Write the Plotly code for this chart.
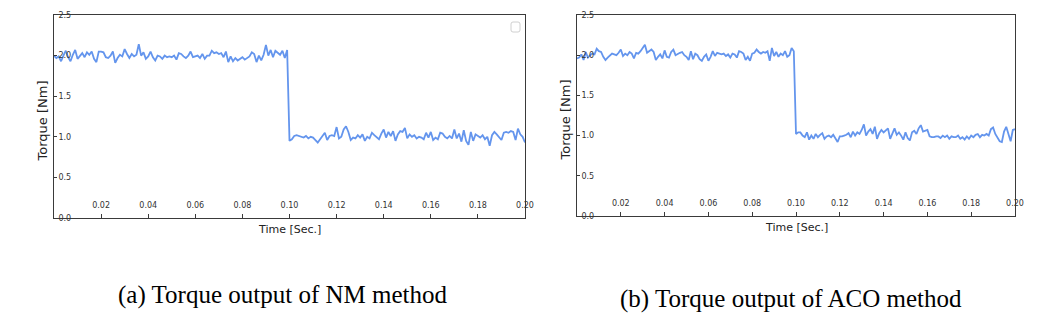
import numpy as np
import plotly.graph_objects as go

# sampled every 1 ms from 0 to 0.2 s
time_step = 0.001
time = np.round(np.arange(201) * time_step, 3)

torque_nm = [
    2.00, 1.97, 1.99, 1.93, 2.00, 2.06, 1.98, 1.93, 2.01, 2.07,
    1.96, 1.99, 2.03, 1.98, 2.04, 2.01, 2.05, 1.96, 1.92, 2.05,
    2.05, 2.04, 1.98, 1.97, 2.00, 2.05, 1.91, 1.97, 2.01, 1.99,
    2.08, 2.02, 1.97, 2.02, 1.99, 2.01, 2.14, 2.00, 2.04, 1.96,
    1.99, 2.05, 1.98, 1.94, 2.00, 1.99, 1.96, 2.00, 1.98, 1.99,
    1.98, 2.00, 1.95, 2.03, 2.02, 1.99, 1.97, 2.00, 2.05, 1.98,
    1.99, 2.00, 1.97, 2.02, 1.96, 2.00, 2.00, 2.06, 2.03, 2.04,
    2.02, 2.03, 1.98, 2.05, 1.92, 1.99, 1.93, 1.97, 1.94, 1.96,
    1.98, 1.95, 1.97, 1.99, 2.04, 2.02, 1.92, 2.00, 1.94, 2.01,
    2.13, 2.00, 2.07, 1.98, 2.06, 2.04, 2.01, 2.06, 1.97, 2.07,
    0.95, 0.97, 1.01, 1.02, 1.01, 1.00, 0.99, 1.01, 0.98, 1.00,
    0.99, 0.96, 0.93, 0.97, 1.01, 1.05, 0.96, 1.01, 1.02, 1.01,
    1.12, 0.98, 1.00, 1.09, 1.13, 1.06, 0.96, 0.99, 0.98, 1.02,
    0.99, 1.03, 0.95, 1.00, 0.98, 1.05, 1.02, 1.00, 0.97, 1.04,
    1.09, 0.99, 1.06, 1.01, 1.07, 0.95, 1.03, 1.07, 1.06, 1.11,
    0.98, 1.03, 1.00, 1.02, 0.98, 1.00, 0.99, 0.97, 1.05, 0.99,
    1.06, 0.96, 0.99, 0.97, 1.05, 1.04, 1.00, 0.98, 1.01, 0.98,
    1.09, 0.98, 1.04, 0.94, 1.08, 0.95, 0.90, 1.06, 0.95, 1.03,
    1.01, 0.99, 1.02, 0.97, 1.00, 0.89, 1.02, 1.06, 1.03, 1.00,
    0.96, 1.05, 1.06, 1.05, 1.07, 1.06, 0.96, 1.10, 1.03, 1.00,
    0.93,
]

torque_aco = [
    1.96, 1.97, 2.01, 1.94, 2.04, 1.97, 2.00, 2.02, 2.01, 2.08,
    2.05, 2.04, 1.98, 1.94, 1.97, 1.99, 2.02, 2.01, 2.00, 2.03,
    2.07, 1.99, 2.02, 2.00, 2.04, 2.02, 1.96, 2.03, 2.02, 2.05,
    2.09, 2.13, 2.03, 2.05, 2.07, 2.04, 1.94, 1.98, 2.01, 1.96,
    2.06, 1.98, 1.97, 2.04, 2.07, 2.00, 2.02, 2.03, 2.04, 2.00,
    1.98, 1.94, 2.05, 1.95, 2.02, 2.00, 1.95, 1.93, 1.98, 2.01,
    1.93, 1.98, 2.05, 1.99, 2.03, 2.02, 2.01, 2.02, 1.99, 2.01,
    1.97, 2.02, 2.01, 1.97, 2.05, 2.04, 2.02, 1.94, 1.98, 1.93,
    2.02, 2.03, 2.07, 2.04, 2.02, 2.04, 2.03, 2.05, 1.93, 2.09,
    1.99, 2.04, 1.98, 2.02, 2.00, 2.05, 1.98, 2.00, 2.09, 2.05,
    1.02, 1.04, 1.04, 1.00, 0.98, 1.04, 0.95, 1.00, 0.96, 1.02,
    0.98, 1.01, 1.03, 0.96, 0.99, 1.00, 0.98, 1.01, 0.97, 0.92,
    0.99, 0.99, 1.00, 1.01, 1.03, 0.98, 1.05, 1.00, 1.04, 1.02,
    1.07, 1.14, 1.00, 1.05, 1.08, 1.02, 1.11, 0.96, 1.03, 1.07,
    1.04, 1.07, 1.09, 0.96, 1.02, 1.09, 1.01, 1.04, 1.00, 0.95,
    1.04, 0.97, 0.94, 1.04, 1.06, 1.02, 1.09, 1.13, 1.05, 1.06,
    1.07, 0.99, 0.98, 0.98, 0.99, 0.99, 0.97, 1.00, 0.98, 1.00,
    0.96, 0.99, 0.98, 0.98, 1.00, 0.96, 0.98, 0.95, 0.99, 0.96,
    1.00, 0.98, 1.01, 1.02, 0.98, 1.01, 1.00, 1.02, 1.00, 1.08,
    1.10, 1.02, 0.97, 0.93, 0.92, 1.05, 1.11, 1.03, 0.93, 1.07,
    1.08,
]

x_ticks = [0.02, 0.04, 0.06, 0.08, 0.10, 0.12, 0.14, 0.16, 0.18, 0.20]
y_ticks = [0.0, 0.5, 1.0, 1.5, 2.0, 2.5]
captions = ["(a) Torque output of NM method", "(b) Torque output of ACO method"]

W, H = 1064, 330
LINE = "rgb(100,149,237)"
AX = "#3a3a3a"


def px_x(v):
    return v / W


def px_y(v):
    return 1 - v / H


fig = go.Figure()
fig.add_trace(go.Scatter(x=time, y=torque_nm, mode="lines", line=dict(color=LINE, width=1.8),
                         xaxis="x", yaxis="y", showlegend=False))
fig.add_trace(go.Scatter(x=time, y=torque_aco, mode="lines", line=dict(color=LINE, width=1.8),
                         xaxis="x2", yaxis="y2", showlegend=False))

panels = [
    dict(x0=54, x1=525, y0=15, y1=218),
    dict(x0=577, x1=1015, y0=15, y1=216),
]

tick_font = dict(family="DejaVu Sans", size=8, color="#333")
xtitle_font = dict(family="DejaVu Sans", size=11, color="#222")
ytitle_font = dict(family="DejaVu Sans", size=13, color="#222")

layout = dict(
    width=W, height=H,
    margin=dict(l=0, r=0, t=0, b=0, autoexpand=False),
    paper_bgcolor="white", plot_bgcolor="white",
    showlegend=False,
)

for i, p in enumerate(panels):
    sfx = "" if i == 0 else str(i + 1)
    layout["xaxis" + sfx] = dict(
        domain=[px_x(p["x0"]), px_x(p["x1"])],
        anchor="y" + sfx,
        range=[0, 0.2],
        tickvals=x_ticks, tickformat=".2f",
        ticks="inside", ticklen=4, tickcolor=AX, tickwidth=1,
        ticklabelposition="inside", ticklabeloverflow="allow", ticklabelstandoff=3,
        showline=True, linecolor=AX, linewidth=1, mirror=True,
        showgrid=False, zeroline=False, automargin=False,
        tickfont=tick_font,
    )
    layout["yaxis" + sfx] = dict(
        domain=[px_y(p["y1"]), px_y(p["y0"])],
        anchor="x" + sfx,
        range=[0, 2.5],
        tickvals=y_ticks, tickformat=".1f",
        ticks="inside", ticklen=3, tickcolor=AX, tickwidth=1,
        ticklabelposition="inside", ticklabeloverflow="allow", ticklabelstandoff=0,
        showline=True, linecolor=AX, linewidth=1, mirror=True,
        showgrid=False, zeroline=False, automargin=False,
        tickfont=tick_font,
    )

fig.update_layout(**layout)

# axis titles
for p in panels:
    fig.add_annotation(text="Time [Sec.]", xref="paper", yref="paper",
                       x=px_x((p["x0"] + p["x1"]) / 2), y=px_y(p["y1"] + 11),
                       xanchor="center", yanchor="middle", showarrow=False, font=xtitle_font)
    fig.add_annotation(text="Torque [Nm]", xref="paper", yref="paper", textangle=-90,
                       x=px_x(p["x0"] - 12), y=px_y((p["y0"] + p["y1"]) / 2 + 5),
                       xanchor="center", yanchor="middle", showarrow=False, font=ytitle_font)

# empty legend frame in the first panel
fig.add_shape(type="path", xref="paper", yref="paper",
              path=(f"M {px_x(513)},{px_y(22)} L {px_x(518)},{px_y(22)} Q {px_x(520)},{px_y(22)} {px_x(520)},{px_y(24)} "
                    f"L {px_x(520)},{px_y(30)} Q {px_x(520)},{px_y(32)} {px_x(518)},{px_y(32)} "
                    f"L {px_x(513)},{px_y(32)} Q {px_x(511)},{px_y(32)} {px_x(511)},{px_y(30)} "
                    f"L {px_x(511)},{px_y(24)} Q {px_x(511)},{px_y(22)} {px_x(513)},{px_y(22)} Z"),
              line=dict(color="#d0d0d0", width=1), fillcolor="rgba(255,255,255,0.8)")

for cap, cx, cy in zip(captions, [282, 791], [295, 299]):
    fig.add_annotation(text=cap, xref="paper", yref="paper", x=px_x(cx), y=px_y(cy),
                       xanchor="center", yanchor="middle", showarrow=False,
                       font=dict(family="Liberation Serif", size=25, color="black"))

# drop the browser's default page margin so the figure sits at (0, 0)
fig.write_html("out.html", config={"displayModeBar": False},
               post_script="document.body.style.margin = '0';")
